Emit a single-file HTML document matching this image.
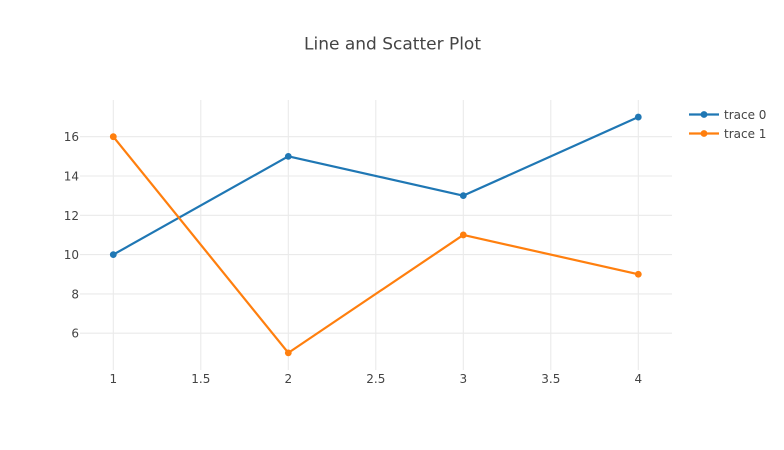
<!DOCTYPE html>
<html>
<head>
<meta charset="utf-8">
<style>
html,body{margin:0;padding:0;background:#fff;}
svg{display:block;font-family:"DejaVu Sans","Liberation Sans",sans-serif;}
text{fill:#444;}
</style>
</head>
<body>
<svg id="chart" width="784" height="450" viewBox="0 0 784 450" xmlns="http://www.w3.org/2000/svg">
  <text x="392.5" y="49.5" text-anchor="middle" font-size="17" textLength="177" lengthAdjust="spacingAndGlyphs">Line and Scatter Plot</text>
  <g id="grid"></g>
  <g id="xticks"></g>
  <g id="yticks"></g>
  <g id="series"></g>
  <g id="legend"></g>
</svg>
<script>
var xValues = [1, 2, 3, 4];
var trace0Values = [10, 15, 13, 17];
var trace1Values = [16, 5, 11, 9];
var seriesNames = ['trace 0', 'trace 1'];
var seriesColors = ['#1f77b4', '#ff7f0e'];
var xTickValues = [1, 1.5, 2, 2.5, 3, 3.5, 4];
var yTickValues = [6, 8, 10, 12, 14, 16];

var NS = 'http://www.w3.org/2000/svg';
var plotLeft = 80, plotRight = 672, plotTop = 100, plotBottom = 370;
function xScale(v) { return 113.3 + (v - 1) * 175; }
function yScale(v) { return 333.2 - (v - 6) * 19.65; }
function make(tag, attrs, parent) {
  var el = document.createElementNS(NS, tag);
  for (var k in attrs) el.setAttribute(k, attrs[k]);
  parent.appendChild(el);
  return el;
}

var grid = document.getElementById('grid');
var xticks = document.getElementById('xticks');
var yticks = document.getElementById('yticks');
var series = document.getElementById('series');
var legend = document.getElementById('legend');

xTickValues.forEach(function (t) {
  var px = xScale(t);
  var line = make('line', {x1: px, x2: px, y1: plotTop, y2: plotBottom, stroke: '#eaeaea', 'stroke-width': 1.1}, grid);
  
  
  var label = make('text', {x: xScale(t), y: 383, 'text-anchor': 'middle', 'font-size': 12}, xticks);
  
  
  label.textContent = String(t);
});

yTickValues.forEach(function (t) {
  var py = yScale(t);
  var line = make('line', {x1: plotLeft, x2: plotRight, y1: py, y2: py, stroke: '#eaeaea', 'stroke-width': 1.1}, grid);
  
  
  var label = make('text', {x: 79, y: yScale(t) + 4.5, 'text-anchor': 'end', 'font-size': 12}, yticks);
  
  
  label.textContent = String(t);
});

[trace0Values, trace1Values].forEach(function (values, s) {
  var pts = values.map(function (v, i) { return xScale(xValues[i]) + ',' + yScale(v); }).join(' ');
  var poly = make('polyline', {points: pts, fill: 'none', stroke: seriesColors[s], 'stroke-width': 2.2, 'stroke-linejoin': 'round'}, series);
  
  
  values.forEach(function (v, i) {
    var dot = make('circle', {cx: xScale(xValues[i]), cy: yScale(v), r: 3.4, fill: seriesColors[s]}, series);
    
    
  });

  var ly = 114.5 + s * 19;
  var entry = make('g', {}, legend);
  
  
  var swatch = make('line', {x1: 689, x2: 719, y1: ly, y2: ly, stroke: seriesColors[s], 'stroke-width': 2.2}, entry);
  
  
  var mark = make('circle', {cx: 704, cy: ly, r: 3.4, fill: seriesColors[s]}, entry);
  
  
  var txt = make('text', {x: 724, y: ly + 4.5, 'font-size': 12}, entry);
  
  
  txt.textContent = seriesNames[s];
});
</script>
</body>
</html>
